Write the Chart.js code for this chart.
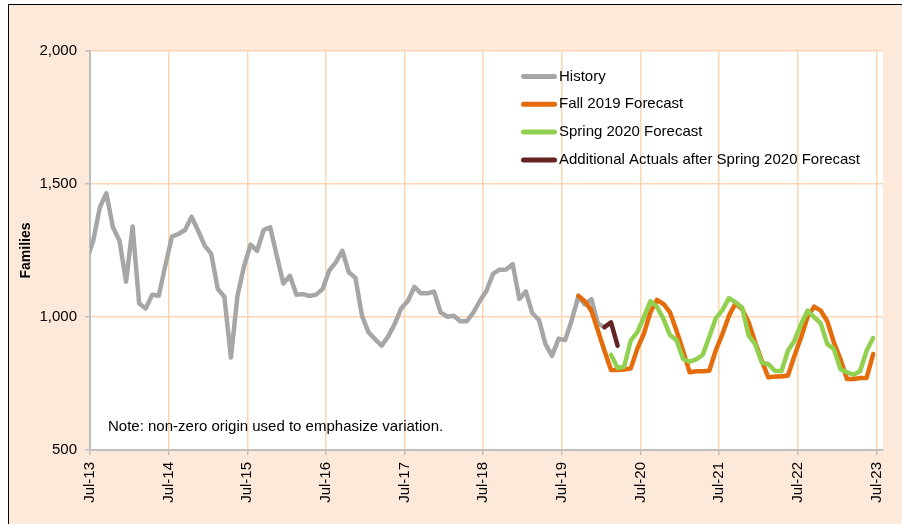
<!DOCTYPE html>
<html>
<head>
<meta charset="utf-8">
<script src="https://cdn.jsdelivr.net/npm/chart.js@4.4.0/dist/chart.umd.min.js"></script>
<style>
html,body{margin:0;padding:0;background:#fff;width:902px;height:524px;overflow:hidden;}
#frame{position:absolute;left:8px;top:4px;width:900px;height:530px;background:#FDE9D9;border-left:1px solid #000;border-top:1px solid #000;}
#c{position:absolute;left:0;top:0;}
</style>
</head>
<body>
<div id="frame"></div>
<canvas id="c" width="902" height="524"></canvas>
<script>
// Tick labels (one per July, Jul-13 .. Jul-23)
const tickLabels = ['Jul-13','Jul-14','Jul-15','Jul-16','Jul-17','Jul-18','Jul-19','Jul-20','Jul-21','Jul-22','Jul-23'];

// Month index 0 = Jul-13
const historyStart = 0;
const history = [
  1215,1288,1412,1465,1337,1287,1133,1340,1051,1032,1084,1080,
  1194,1302,1312,1327,1377,1324,1268,1237,1105,1076,848,1080,
  1190,1272,1249,1327,1337,1230,1126,1155,1084,1086,1079,1084,
  1105,1174,1205,1249,1168,1147,1005,942,917,892,927,974,
  1033,1060,1113,1089,1089,1096,1017,1001,1005,984,984,1017,
  1061,1099,1162,1178,1179,1199,1068,1096,1014,989,898,854,
  918,913,988,1076,1047,1067,975,962
];

const fallStart = 75; // Oct-19
const fall2019 = [
  1080,1059,1024,949,873,801,801,803,806,880,936,1017,
  1064,1049,1017,948,873,792,796,796,798,876,936,1005,
  1051,1030,980,905,836,773,776,776,780,855,923,1001,
  1039,1024,984,905,842,767,767,771,771,861
];

const springStart = 80; // Mar-20
const spring2020 = [
  858,808,813,911,942,999,1059,1039,993,932,913,842,
  832,841,858,926,996,1026,1071,1055,1036,930,898,829,
  823,798,796,873,911,974,1024,999,976,898,880,804,
  792,783,796,873,921
];

const addStart = 79; // Feb-20
const additionalActuals = [962,980,892];

const seriesLabels = ['History','Fall 2019 Forecast','Spring 2020 Forecast','Additional Actuals after Spring 2020 Forecast'];
const noteText = 'Note: non-zero origin used to emphasize variation.';

const toPoints = (start, arr) => arr.map((v, i) => ({x: start + i, y: v}));

const FONT = '"Liberation Sans", Arial, sans-serif';

const overlay = {
  id: 'overlay',
  beforeDraw(chart) {
    const {ctx, chartArea: a} = chart;
    ctx.save();
    ctx.fillStyle = '#fff';
    ctx.fillRect(a.left, a.top, a.right - a.left, a.bottom - a.top);
    ctx.restore();
  },
  afterDraw(chart) {
    const {ctx, chartArea: a} = chart;
    ctx.save();
    ctx.font = '15px ' + FONT;
    ctx.textBaseline = 'middle';
    ctx.textAlign = 'left';
    chart.data.datasets.forEach((ds, i) => {
      const y = a.top + 25.5 + i * 27.8;
      ctx.strokeStyle = ds.borderColor;
      ctx.lineWidth = 5;
      ctx.lineCap = 'round';
      ctx.beginPath();
      ctx.moveTo(a.left + 433.5, y);
      ctx.lineTo(a.left + 464.5, y);
      ctx.stroke();
      ctx.fillStyle = '#000';
      ctx.fillText(ds.label, a.left + 469, y);
    });
    ctx.fillStyle = '#000';
    ctx.fillText(noteText, a.left + 18, a.top + 376);
    ctx.restore();
  }
};

const lineDs = (label, data, color, order) => ({
  label, data, borderColor: color, backgroundColor: color, order,
  borderWidth: 4.5, pointRadius: 0, tension: 0,
  borderCapStyle: 'round', borderJoinStyle: 'round', fill: false,
  clip: {left: 0, top: 6, right: 0, bottom: 6}
});

new Chart(document.getElementById('c'), {
  type: 'line',
  data: {
    datasets: [
      lineDs(seriesLabels[0], toPoints(historyStart, history), '#A6A6A6', 4),
      lineDs(seriesLabels[1], toPoints(fallStart, fall2019), '#E46C0A', 3),
      lineDs(seriesLabels[2], toPoints(springStart, spring2020), '#92D050', 2),
      lineDs(seriesLabels[3], toPoints(addStart, additionalActuals), '#632523', 1)
    ]
  },
  options: {
    responsive: false,
    animation: false,
    devicePixelRatio: 1,
    layout: {padding: {top: 51, right: 19, bottom: 0, left: 0}},
    plugins: {legend: {display: false}, tooltip: {enabled: false}},
    scales: {
      x: {
        type: 'linear',
        min: 0.5,
        max: 121.5,
        afterBuildTicks: s => { s.ticks = tickLabels.map((_, k) => ({value: 0.5 + 12 * k})); },
        afterFit: s => { s.height = 74; },
        ticks: {
          autoSkip: false, minRotation: 90, maxRotation: 90, padding: 7,
          color: '#000', font: {family: FONT, size: 15},
          callback: (v, i) => tickLabels[i]
        },
        grid: {
          color: ctx => (ctx.tick && ctx.tick.value === 0.5) ? 'rgba(0,0,0,0)' : '#FCD5B4',
          lineWidth: 1.5, tickLength: 5, tickColor: '#BFBFBF', tickWidth: 1.5
        },
        border: {color: '#BFBFBF', width: 2}
      },
      y: {
        min: 500,
        max: 2000,
        afterFit: s => { s.width = 90; },
        ticks: {
          stepSize: 500, padding: 8, color: '#000', font: {family: FONT, size: 15},
          callback: v => Number(v).toLocaleString('en-US')
        },
        grid: {
          color: ctx => (ctx.tick && ctx.tick.value === 500) ? 'rgba(0,0,0,0)' : '#FCD5B4',
          lineWidth: 1.5, tickLength: 5, tickColor: '#BFBFBF', tickWidth: 1.5
        },
        border: {color: '#BFBFBF', width: 2},
        title: {
          display: true, text: 'Families', color: '#000',
          font: {family: FONT, size: 14, weight: 'bold'},
          padding: {top: 17.6, bottom: 0}
        }
      }
    }
  },
  plugins: [overlay]
});
</script>
</body>
</html>
